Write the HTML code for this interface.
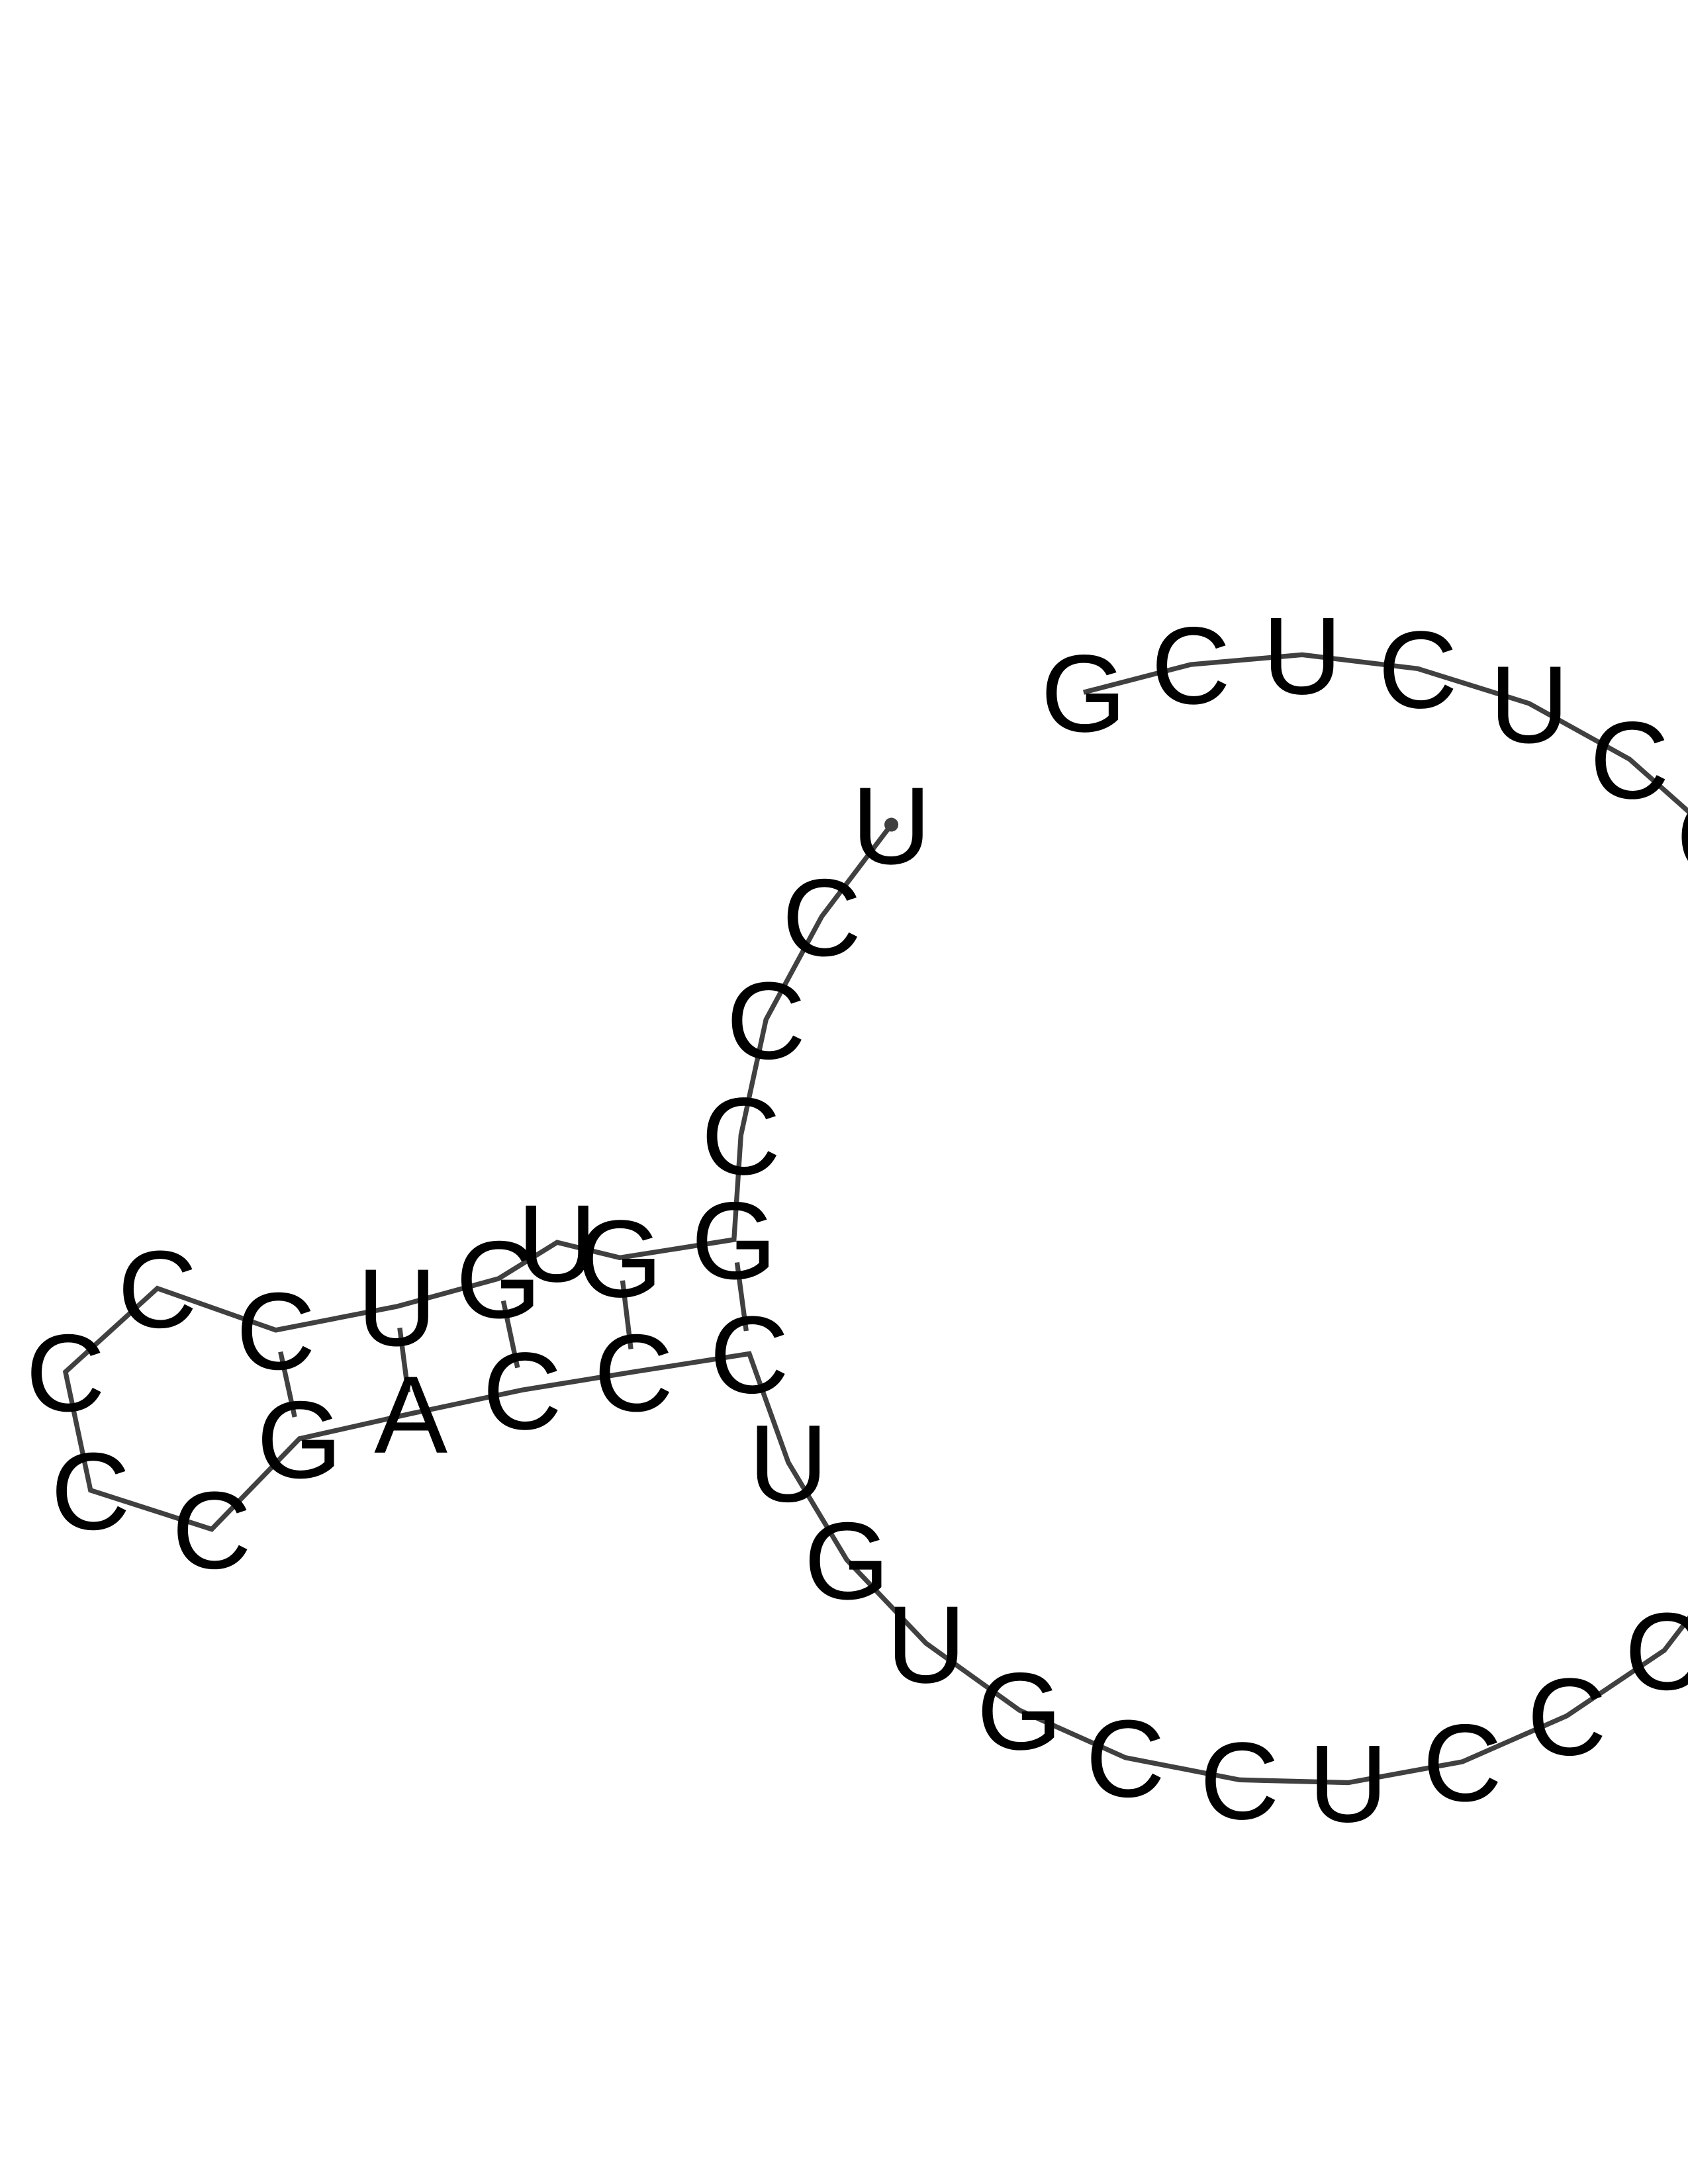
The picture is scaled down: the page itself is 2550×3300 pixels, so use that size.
<!DOCTYPE html>
<html><head><meta charset="utf-8"><style>html,body{margin:0;padding:0;background:#fff;}svg{display:block;}</style></head>
<body>
<svg id="chart" width="2550" height="3300" viewBox="0 0 1212 1568" xmlns="http://www.w3.org/2000/svg"></svg>
<script>
const bases = ["U","C","C","C","G","G","U","G","U","C","C","C","C","C","G","A","C","C","C","U","G","U","G","C","C","U","C","C","C","C","C","C","C","U","C","U","C","G"];
const xs = [640,590,550,532,527,445,400,358,285,198,113,47,65,152,215,295,375,455,538,566,608,665,732,808,890,968,1050,1125,1195,1260,1260,1232,1170,1098,1018,935,855,778];
const ys = [592,658,732,815,890,903,892,918,938,955,925,985,1070,1098,1033,1015,998,985,972,1050,1120,1180,1228,1262,1278,1280,1265,1232,1185,1100,680,600,545,505,480,470,477,497];
const pairs = [[4,18],[5,17],[7,16],[8,15],[9,14]];
const svg = document.getElementById('chart');
const NS = 'http://www.w3.org/2000/svg';
const sx = i => xs[i], sy = i => ys[i];
let d = '';
for (let i = 0; i < bases.length; i++) d += (i ? 'L' : 'M') + sx(i) + ' ' + sy(i);
const bb = document.createElementNS(NS, 'path');
bb.setAttribute('d', d);
bb.setAttribute('fill', 'none');
bb.setAttribute('stroke', '#404040');
bb.setAttribute('stroke-width', '3.5');


svg.appendChild(bb);
pairs.forEach(p => {
  const [a, b] = p;
  const x1 = sx(a) + (sx(b) - sx(a)) * 0.2, y1 = sy(a) + (sy(b) - sy(a)) * 0.2;
  const x2 = sx(a) + (sx(b) - sx(a)) * 0.8, y2 = sy(a) + (sy(b) - sy(a)) * 0.8;
  const l = document.createElementNS(NS, 'line');
  l.setAttribute('x1', x1); l.setAttribute('y1', y1);
  l.setAttribute('x2', x2); l.setAttribute('y2', y2);
  l.setAttribute('stroke', '#404040');
  l.setAttribute('stroke-width', '3.5');
  
  
  svg.appendChild(l);
});
const dot = document.createElementNS(NS, 'circle');
dot.setAttribute('cx', sx(0)); dot.setAttribute('cy', sy(0)); dot.setAttribute('r', '5');
dot.setAttribute('fill', '#404040');


svg.appendChild(dot);
bases.forEach((b, i) => {
  const t = document.createElementNS(NS, 'text');
  t.setAttribute('x', sx(i));
  t.setAttribute('y', sy(i) + 28);
  t.setAttribute('text-anchor', 'middle');
  t.setAttribute('font-family', 'Liberation Sans, sans-serif');
  t.setAttribute('font-size', '79');
  t.setAttribute('fill', '#000');
  
  
  t.textContent = b;
  svg.appendChild(t);
});
</script>
</body></html>
